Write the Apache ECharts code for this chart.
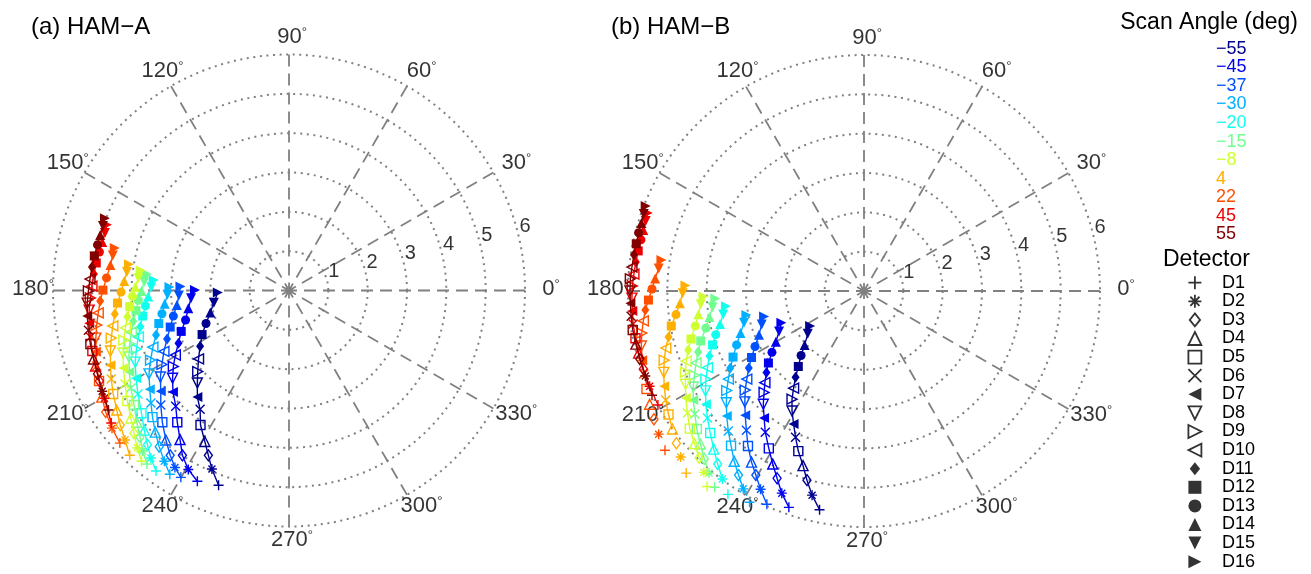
<!DOCTYPE html>
<html>
<head>
<meta charset="utf-8">
<script src="https://cdn.jsdelivr.net/npm/echarts@6/dist/echarts.min.js"></script>
<style>html,body{margin:0;padding:0;background:#fff}#c{width:1311px;height:574px}</style>
</head>
<body>
<div id="c"></div>
<script>
// ---------------- data ----------------
const scanAngles = ['\u221255','\u221245','\u221237','\u221230','\u221220','\u221215','\u22128','4','22','45','55'];
const detectors = ['D1','D2','D3','D4','D5','D6','D7','D8','D9','D10','D11','D12','D13','D14','D15','D16'];
const angleTicks = [0,30,60,90,120,150,180,210,240,270,300,330];
const radiusTicks = [1,2,3,4,5,6];

// Cartesian components (x = r cos(phase), y = r sin(phase)); rows: scan angles, cols: D1..D16
const hamA_x = [
 [-1.79,-1.96,-2.05,-2.14,-2.25,-2.26,-2.33,-2.33,-2.32,-2.30,-2.26,-2.21,-2.11,-2.00,-1.91,-1.81],
 [-2.33,-2.56,-2.71,-2.77,-2.84,-2.88,-2.95,-2.96,-2.94,-2.89,-2.81,-2.74,-2.63,-2.56,-2.49,-2.39],
 [-2.75,-2.90,-3.02,-3.13,-3.22,-3.26,-3.26,-3.27,-3.23,-3.18,-3.10,-3.02,-2.94,-2.85,-2.80,-2.76],
 [-3.03,-3.17,-3.30,-3.40,-3.47,-3.51,-3.54,-3.56,-3.52,-3.46,-3.38,-3.31,-3.23,-3.16,-3.09,-3.04],
 [-3.38,-3.51,-3.60,-3.68,-3.75,-3.84,-3.89,-3.91,-3.88,-3.83,-3.78,-3.72,-3.65,-3.58,-3.50,-3.44],
 [-3.61,-3.72,-3.79,-3.87,-3.94,-4.02,-4.06,-4.07,-4.05,-4.01,-3.96,-3.89,-3.83,-3.75,-3.68,-3.61],
 [-3.75,-3.86,-3.94,-4.02,-4.11,-4.17,-4.21,-4.22,-4.20,-4.16,-4.11,-4.05,-3.98,-3.91,-3.83,-3.77],
 [-4.05,-4.17,-4.29,-4.38,-4.47,-4.52,-4.54,-4.54,-4.52,-4.48,-4.43,-4.36,-4.27,-4.19,-4.12,-4.07],
 [-4.30,-4.50,-4.66,-4.76,-4.83,-4.89,-4.91,-4.91,-4.89,-4.85,-4.80,-4.73,-4.64,-4.54,-4.48,-4.43],
 [-4.52,-4.69,-4.82,-4.92,-5.00,-5.05,-5.08,-5.08,-5.05,-5.01,-4.96,-4.90,-4.82,-4.75,-4.68,-4.63],
 [-4.59,-4.75,-4.87,-4.97,-5.05,-5.10,-5.13,-5.13,-5.10,-5.06,-5.01,-4.95,-4.87,-4.80,-4.73,-4.68]
];
const hamA_y = [
 [-4.95,-4.54,-4.19,-3.84,-3.42,-3.02,-2.71,-2.35,-2.06,-1.74,-1.42,-1.12,-0.84,-0.56,-0.31,-0.05],
 [-4.85,-4.55,-4.19,-3.79,-3.35,-2.94,-2.58,-2.23,-1.93,-1.64,-1.34,-1.04,-0.75,-0.45,-0.20,0.01],
 [-4.75,-4.50,-4.19,-3.80,-3.35,-2.91,-2.56,-2.20,-1.88,-1.55,-1.23,-0.93,-0.65,-0.37,-0.13,0.10],
 [-4.67,-4.34,-3.97,-3.60,-3.22,-2.86,-2.51,-2.12,-1.77,-1.44,-1.13,-0.84,-0.59,-0.34,-0.11,0.09],
 [-4.59,-4.26,-3.92,-3.55,-3.12,-2.63,-2.23,-1.82,-1.49,-1.18,-0.92,-0.65,-0.39,-0.15,0.08,0.27],
 [-4.41,-4.08,-3.73,-3.35,-2.91,-2.48,-2.07,-1.69,-1.36,-1.06,-0.78,-0.51,-0.25,-0.01,0.22,0.41],
 [-4.34,-4.00,-3.63,-3.24,-2.81,-2.38,-1.97,-1.59,-1.26,-0.95,-0.67,-0.41,-0.15,0.09,0.32,0.51],
 [-4.19,-3.80,-3.42,-3.04,-2.63,-2.25,-1.90,-1.54,-1.21,-0.90,-0.60,-0.32,-0.04,0.24,0.47,0.67],
 [-3.88,-3.50,-3.09,-2.71,-2.30,-1.92,-1.56,-1.21,-0.88,-0.57,-0.27,0.01,0.32,0.65,0.89,1.08],
 [-3.37,-2.74,-2.30,-1.92,-1.54,-1.18,-0.83,-0.50,-0.19,0.11,0.42,0.70,0.98,1.23,1.46,1.67],
 [-3.04,-2.56,-2.12,-1.74,-1.36,-1.01,-0.65,-0.32,-0.01,0.29,0.60,0.88,1.16,1.41,1.64,1.84]
];
const hamB_x = [
 [-1.13,-1.32,-1.45,-1.55,-1.67,-1.74,-1.79,-1.83,-1.83,-1.79,-1.74,-1.67,-1.60,-1.51,-1.43,-1.37],
 [-1.91,-2.09,-2.21,-2.32,-2.42,-2.51,-2.54,-2.56,-2.54,-2.52,-2.48,-2.43,-2.34,-2.24,-2.16,-2.10],
 [-2.47,-2.63,-2.75,-2.86,-2.95,-2.99,-3.02,-3.03,-3.02,-2.98,-2.93,-2.86,-2.77,-2.67,-2.60,-2.54],
 [-2.91,-3.07,-3.19,-3.30,-3.38,-3.45,-3.49,-3.50,-3.49,-3.45,-3.40,-3.33,-3.24,-3.14,-3.05,-2.99],
 [-3.46,-3.60,-3.72,-3.82,-3.91,-3.98,-4.02,-4.03,-4.02,-3.98,-3.93,-3.85,-3.77,-3.66,-3.58,-3.51],
 [-3.80,-3.94,-4.06,-4.16,-4.25,-4.30,-4.34,-4.34,-4.31,-4.27,-4.22,-4.15,-4.02,-3.93,-3.85,-3.78],
 [-3.99,-4.07,-4.19,-4.31,-4.43,-4.49,-4.53,-4.54,-4.54,-4.52,-4.47,-4.40,-4.29,-4.21,-4.15,-4.08],
 [-4.52,-4.66,-4.77,-4.87,-4.97,-5.04,-5.08,-5.09,-5.08,-5.04,-4.97,-4.90,-4.78,-4.68,-4.61,-4.54],
 [-5.06,-5.22,-5.34,-5.45,-5.53,-5.60,-5.64,-5.66,-5.65,-5.61,-5.56,-5.48,-5.39,-5.31,-5.22,-5.15],
 [-5.24,-5.45,-5.61,-5.73,-5.81,-5.87,-5.89,-5.90,-5.89,-5.85,-5.80,-5.74,-5.67,-5.61,-5.55,-5.50],
 [-5.39,-5.56,-5.70,-5.80,-5.88,-5.92,-5.94,-5.95,-5.94,-5.90,-5.85,-5.79,-5.73,-5.66,-5.60,-5.55]
];
const hamB_y = [
 [-5.56,-5.19,-4.81,-4.44,-4.07,-3.72,-3.38,-3.05,-2.75,-2.47,-2.19,-1.92,-1.64,-1.37,-1.09,-0.89],
 [-5.50,-5.14,-4.76,-4.40,-4.00,-3.59,-3.23,-2.88,-2.58,-2.33,-2.07,-1.83,-1.56,-1.29,-1.03,-0.81],
 [-5.42,-5.04,-4.68,-4.35,-3.94,-3.54,-3.16,-2.82,-2.52,-2.24,-1.96,-1.69,-1.41,-1.11,-0.85,-0.65],
 [-5.37,-5.03,-4.68,-4.33,-3.93,-3.56,-3.18,-2.84,-2.53,-2.24,-1.96,-1.68,-1.37,-1.07,-0.81,-0.61],
 [-5.17,-4.78,-4.40,-4.02,-3.61,-3.23,-2.88,-2.54,-2.24,-1.95,-1.65,-1.37,-1.11,-0.84,-0.60,-0.39],
 [-4.99,-4.63,-4.27,-3.89,-3.51,-3.13,-2.77,-2.44,-2.14,-1.83,-1.55,-1.27,-0.94,-0.66,-0.41,-0.19],
 [-4.97,-4.61,-4.24,-3.88,-3.50,-3.10,-2.72,-2.37,-2.06,-1.78,-1.50,-1.22,-0.89,-0.59,-0.34,-0.14],
 [-4.63,-4.22,-3.87,-3.51,-3.14,-2.77,-2.42,-2.07,-1.76,-1.45,-1.17,-0.89,-0.60,-0.31,-0.06,0.14],
 [-4.05,-3.64,-3.26,-2.88,-2.49,-2.11,-1.76,-1.40,-1.07,-0.76,-0.48,-0.23,0.05,0.32,0.57,0.79],
 [-2.90,-2.42,-1.98,-1.58,-1.20,-0.84,-0.51,-0.18,0.13,0.43,0.74,1.02,1.30,1.55,1.78,1.98],
 [-2.65,-2.16,-1.73,-1.35,-0.99,-0.64,-0.31,0.00,0.31,0.61,0.92,1.20,1.48,1.73,1.96,2.16]
];

// ---------------- styles ----------------
const scanColors = ['#00008F','#0000EF','#0050FF','#00AFFF','#10FFEF','#70FF8F','#CFFF30','#FFAF00','#FF5000','#EF0000','#800000'];
const P_PLUS = 'path://M5,0L5,10M0,5L10,5';
const P_STAR = 'path://M5,0L5,10M0,5L10,5M1.5,1.5L8.5,8.5M1.5,8.5L8.5,1.5';
const P_X = 'path://M0,0L10,10M0,10L10,0';
const P_LEFT = 'path://M0,5L10,0L10,10Z';
const P_RIGHT = 'path://M0,0L10,5L0,10Z';
const P_DOWN = 'path://M0,0L10,0L5,10Z';
const P_UP = 'path://M5,0L10,10L0,10Z';
const P_DIAM = 'path://M4,0L8,5L4,10L0,5Z';
const P_SQ = 'path://M0,0L10,0L10,10L0,10Z';
const markerDefs = [
  {symbol:P_PLUS, fill:false, size:10},
  {symbol:P_STAR, fill:false, size:10},
  {symbol:P_DIAM, fill:false, size:[8,11]},
  {symbol:P_UP, fill:false, size:10},
  {symbol:P_SQ, fill:false, size:9},
  {symbol:P_X, fill:false, size:9},
  {symbol:P_LEFT, fill:true, size:10},
  {symbol:P_DOWN, fill:false, size:10},
  {symbol:P_RIGHT, fill:false, size:10},
  {symbol:P_LEFT, fill:false, size:10},
  {symbol:P_DIAM, fill:true, size:[8,11]},
  {symbol:P_SQ, fill:true, size:9},
  {symbol:'circle', fill:true, size:9},
  {symbol:P_UP, fill:true, size:10},
  {symbol:P_DOWN, fill:true, size:10},
  {symbol:P_RIGHT, fill:true, size:10}
];
const FONT = '"Liberation Sans", Arial, Helvetica, sans-serif';
const GRID_GRAY = '#808080';
const DEG_RICH = {
  a: {fontSize: 22, fontFamily: FONT, color: '#000'},
  b: {fontSize: 13, fontFamily: FONT, color: '#000', verticalAlign: 'top'}
};

function toPolar(x, y) {
  const r = Math.hypot(x, y);
  let t = Math.atan2(y, x) * 180 / Math.PI;
  if (t < 0) t += 360;
  return [r, t];
}

function curveSeries(xs, ys, polarIndex) {
  return scanAngles.map((name, i) => {
    const c = scanColors[i];
    return {
      name: name,
      type: 'line',
      coordinateSystem: 'polar',
      polarIndex: polarIndex,
      clip: false,
      silent: true,
      color: c,
      lineStyle: {color: c, width: 1.4},
      z: 10 + i,
      data: xs[i].map((x, k) => {
        const m = markerDefs[k];
        return {
          value: toPolar(x, ys[i][k]),
          symbol: m.symbol,
          symbolSize: m.size,
          itemStyle: {
            color: m.fill ? c : 'rgba(0,0,0,0)',
            borderColor: c,
            borderWidth: m.fill ? 0 : 1.4
          }
        };
      })
    };
  });
}

// radius tick labels placed along the 13 deg direction, nudged like MATLAB's polar()
function radiusLabelSeries(polarIndex) {
  return {
    type: 'scatter', coordinateSystem: 'polar', polarIndex: polarIndex,
    silent: true, symbolSize: 0, z: 5, clip: false,
    data: radiusTicks.map(k => [k, 13.2]),
    label: {show: true, position: 'inside', offset: [6.4, -9.7],
            formatter: p => String(radiusTicks[p.dataIndex]),
            fontSize: 20, fontFamily: FONT, color: '#000'}
  };
}

// angle tick labels centred just outside the outer ring
function angleLabelSeries(polarIndex) {
  return {
    type: 'scatter', coordinateSystem: 'polar', polarIndex: polarIndex,
    silent: true, symbolSize: 0, z: 5, clip: false,
    data: angleTicks.map(a => ({
      value: [6.585, a],
      label: {offset: [3, -2 + 7.5 * Math.sin(a * Math.PI / 180)]}
    })),
    label: {show: true, position: 'inside',
            formatter: p => '{a|' + angleTicks[p.dataIndex] + '}{b|\u00b0}',
            rich: DEG_RICH}
  };
}

function angleAxisFor(i) {
  return {
    polarIndex: i, type: 'value', min: 0, max: 360, interval: 30,
    startAngle: 0, clockwise: false,
    axisLine: {show: false}, axisTick: {show: false}, axisLabel: {show: false},
    splitLine: {show: true, lineStyle: {color: GRID_GRAY, width: 1.8, type: [12, 7]}}
  };
}
function radiusAxisFor(i) {
  return {
    polarIndex: i, type: 'value', min: 0, max: 6, interval: 1,
    axisLine: {show: false}, axisTick: {show: false}, axisLabel: {show: false},
    splitLine: {show: true, lineStyle: {color: GRID_GRAY, width: 2, type: [2, 4.6]}}
  };
}

const detectorSeries = detectors.map(d => ({
  name: d, type: 'scatter', coordinateSystem: 'polar', polarIndex: 0, data: []
}));

const titleStyle = {fontSize: 24, fontWeight: 'normal', fontFamily: FONT, color: '#000'};
const chart = echarts.init(document.getElementById('c'), null, {renderer: 'canvas'});
chart.setOption({
  animation: false,
  backgroundColor: '#fff',
  title: [
    {text: '(a) HAM\u2212A', left: 26, top: 10, textStyle: titleStyle},
    {text: '(b) HAM\u2212B', left: 606, top: 10, textStyle: titleStyle},
    {text: 'Scan Angle (deg)', right: 8, top: 6, textStyle: Object.assign({}, titleStyle, {fontSize: 23})},
    {text: 'Detector', left: 1158, top: 243, textStyle: Object.assign({}, titleStyle, {fontSize: 23})}
  ],
  polar: [
    {center: [289, 290.5], radius: 236},
    {center: [864, 291], radius: 236}
  ],
  angleAxis: [angleAxisFor(0), angleAxisFor(1)],
  radiusAxis: [radiusAxisFor(0), radiusAxisFor(1)],
  legend: [
    {
      orient: 'vertical', left: 1211, top: 39.8, padding: 0,
      itemWidth: 0, itemHeight: 18, itemGap: 0.57,
      icon: 'none', selectedMode: false,
      textStyle: {fontSize: 18, fontFamily: FONT},
      data: scanAngles.map((n, i) => ({name: n, textStyle: {color: scanColors[i]}}))
    },
    {
      orient: 'vertical', left: 1187.5, top: 273.7, padding: 0,
      itemWidth: 44, itemHeight: 13, itemGap: 0.6,
      selectedMode: false, symbolKeepAspect: true,
      textStyle: {fontSize: 18, fontFamily: FONT, color: '#000'},
      data: detectors.map((d, k) => {
        const m = markerDefs[k];
        return {
          name: d, icon: m.symbol,
          itemStyle: {color: m.fill ? '#000' : 'rgba(0,0,0,0)', borderColor: '#000', borderWidth: m.fill ? 0 : 1.8}
        };
      })
    }
  ],
  series: [
    ...curveSeries(hamA_x, hamA_y, 0),
    ...curveSeries(hamB_x, hamB_y, 1),
    radiusLabelSeries(0), radiusLabelSeries(1),
    angleLabelSeries(0), angleLabelSeries(1),
    ...detectorSeries
  ]
});
</script>
</body>
</html>
